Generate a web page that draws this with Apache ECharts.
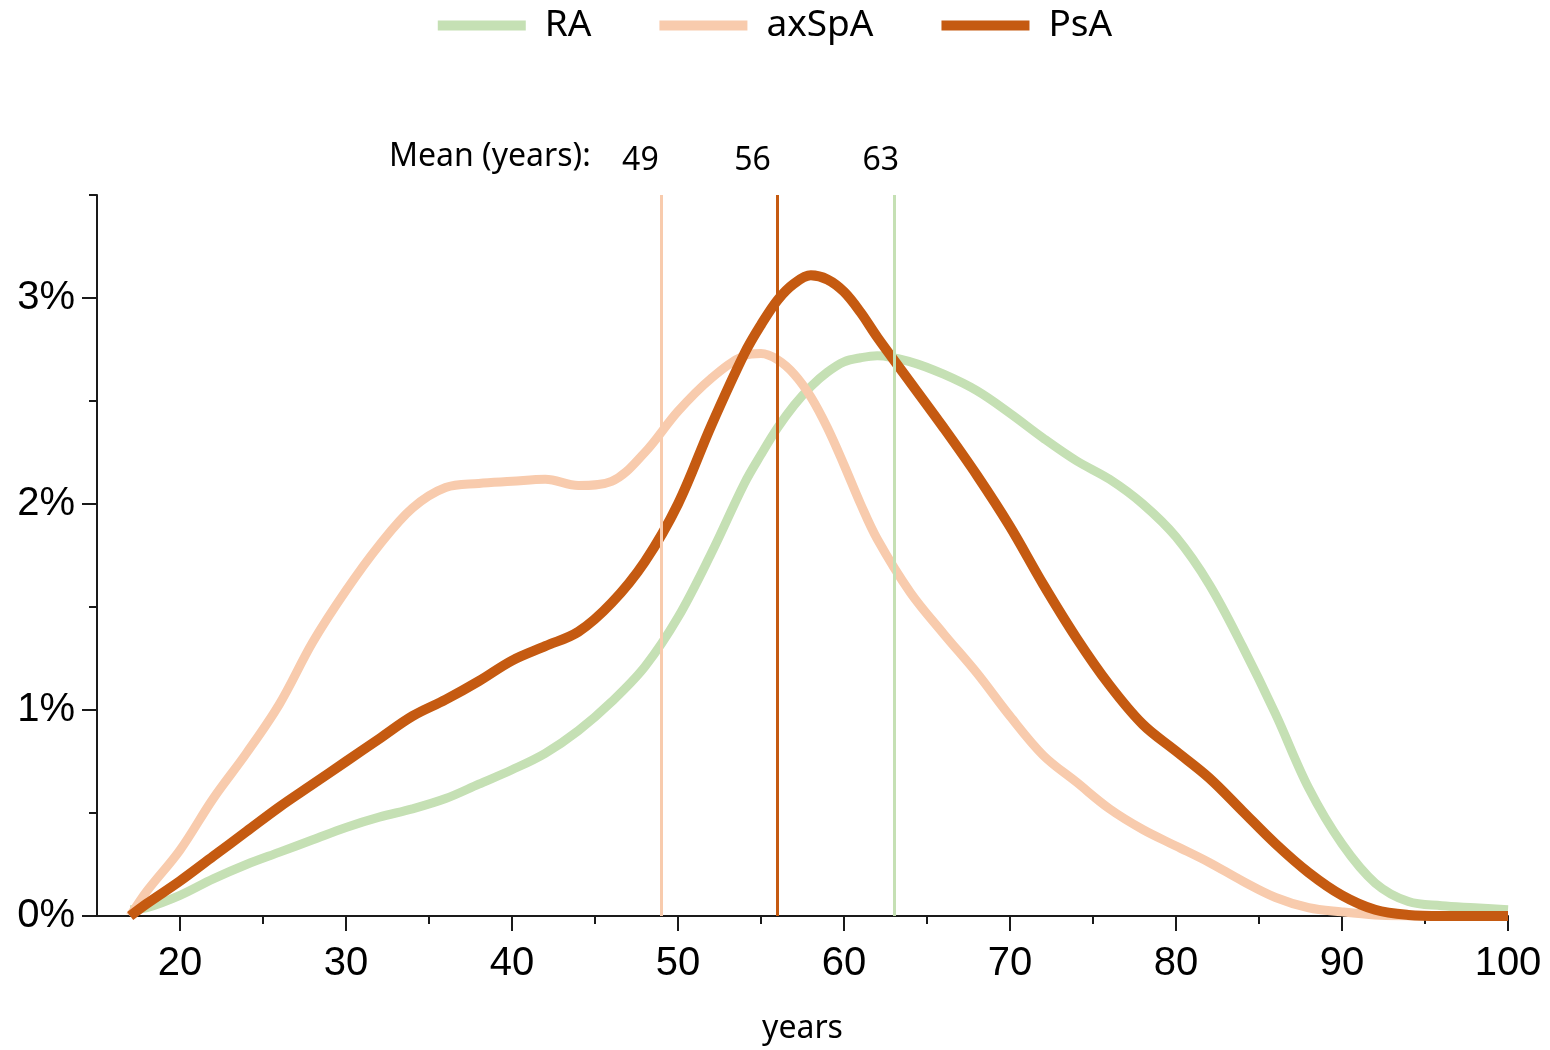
<!DOCTYPE html>
<html>
<head>
<meta charset="utf-8">
<script src="https://cdn.jsdelivr.net/npm/echarts@6/dist/echarts.min.js"></script>
<style>
html,body{margin:0;padding:0;background:#fff;}
#chart{width:1550px;height:1050px;}
</style>
</head>
<body>
<div id="chart"></div>
<script>
// ---- data ----
const ages  = [17,18,20,22,24,26,28,30,32,34,36,38,40,42,44,46,48,50,52,54,55,56,57,58,59,60,61,62,64,66,68,70,72,74,76,78,80,82,84,86,88,90,92,94,96,98,100];
const ra    = [0.03,0.04,0.10,0.18,0.25,0.31,0.37,0.43,0.48,0.52,0.57,0.64,0.71,0.79,0.90,1.04,1.21,1.45,1.76,2.10,2.24,2.37,2.48,2.57,2.64,2.69,2.71,2.72,2.69,2.63,2.55,2.44,2.32,2.21,2.12,2.00,1.84,1.61,1.31,0.98,0.62,0.35,0.16,0.07,0.05,0.04,0.03];
const axspa = [0.00,0.12,0.32,0.57,0.79,1.03,1.33,1.58,1.80,1.98,2.08,2.10,2.11,2.12,2.09,2.11,2.25,2.45,2.61,2.72,2.73,2.70,2.63,2.52,2.37,2.19,2.00,1.83,1.57,1.37,1.18,0.97,0.78,0.65,0.52,0.42,0.34,0.26,0.17,0.09,0.04,0.02,0.005,0,0,0,0];
const psa   = [0.00,0.06,0.17,0.29,0.41,0.53,0.64,0.75,0.86,0.97,1.05,1.14,1.24,1.31,1.38,1.52,1.72,2.00,2.38,2.73,2.87,2.99,3.07,3.11,3.09,3.03,2.93,2.81,2.59,2.37,2.14,1.89,1.61,1.35,1.12,0.93,0.80,0.67,0.51,0.35,0.21,0.10,0.03,0.005,0,0,0];
const seriesNames = ['RA','axSpA','PsA'];
const meanAges = {RA:63, axSpA:49, PsA:56};
const xMajorTicks = [20,30,40,50,60,70,80,90,100];
const xMinorTicks = [25,35,45,55,65,75,85,95];
const yMajorTicks = [0,1,2,3];
const yMinorTicks = [0.5,1.5,2.5,3.5];
const meanTitle = 'Mean (years):';

// ---- styling ----
const colors = {RA:'#C5E0B4', axSpA:'#F8CBAD', PsA:'#C55A11'};
const widths = {RA:9, axSpA:9, PsA:10};
const labelOffsets = {RA:[-13,-13], axSpA:[-21,-13], PsA:[-25,-13]};
const X_MIN = 15, X_MAX = 100, Y_MIN = 0, Y_MAX = 3.5;
const axisFont = 'Liberation Sans, Arial, sans-serif';
const textFont = 'Noto Sans, Open Sans, sans-serif';

const values = {RA: ra, axSpA: axspa, PsA: psa};

function mkSeries(name){
  const m = meanAges[name];
  return {
    name: name,
    type: 'line',
    smooth: 0.35,
    showSymbol: false,
    symbol: 'none',
    xAxisIndex: 0, yAxisIndex: 0,
    data: ages.map((a,i)=>[a, values[name][i]]),
    lineStyle: {color: colors[name], width: widths[name], cap: 'butt'},
    itemStyle: {color: colors[name]},
    emphasis: {disabled: true},
    markLine: {
      silent: true,
      symbol: ['none','none'],
      animation: false,
      lineStyle: {color: colors[name], width: 3, type: 'solid'},
      label: {
        show: true,
        position: 'end',
        formatter: String(m),
        color: '#000',
        fontFamily: textFont,
        fontSize: 32,
        offset: labelOffsets[name]
      },
      data: [[{coord:[m, Y_MIN]},{coord:[m, Y_MAX]}]]
    }
  };
}

const chart = echarts.init(document.getElementById('chart'), null, {renderer:'canvas'});
const axisLineStyle = {color:'#1a1a1a', width:2};
chart.setOption({
  animation: false,
  backgroundColor: '#fff',
  legend: {
    data: seriesNames,
    top: 2,
    left: 'center',
    itemWidth: 88,
    itemHeight: 10,
    itemGap: 68,
    icon: 'rect',
    textStyle: {fontFamily: textFont, fontSize: 37, color:'#000', padding:[0,0,0,14]},
    selectedMode: false
  },
  graphic: [{
    type: 'text',
    left: 389,
    top: 141,
    style: {text: meanTitle, font: '32px ' + textFont, fill: '#000'}
  }],
  grid: {left: 97, right: 42, top: 195, bottom: 133, containLabel: false},
  xAxis: [{
    type: 'value', min: X_MIN, max: X_MAX,
    name: 'years', nameLocation: 'middle', nameGap: 97,
    nameTextStyle: {fontFamily: textFont, fontSize: 32, color:'#000'},
    axisLine: {show:true, lineStyle: axisLineStyle},
    axisTick: {show:true, length:15, inside:false, customValues: xMajorTicks, lineStyle: axisLineStyle},
    axisLabel: {show:true, customValues: xMajorTicks, fontFamily: axisFont, fontSize: 40, color:'#000', margin: 28},
    splitLine: {show:false}
  },{
    type: 'value', min: X_MIN, max: X_MAX, position: 'bottom',
    axisLine: {show:false},
    axisTick: {show:true, length:8, customValues: xMinorTicks, lineStyle: axisLineStyle},
    axisLabel: {show:false},
    splitLine: {show:false}
  }],
  yAxis: [{
    type: 'value', min: Y_MIN, max: Y_MAX,
    axisLine: {show:true, lineStyle: axisLineStyle},
    axisTick: {show:true, length:15, customValues: yMajorTicks, lineStyle: axisLineStyle},
    axisLabel: {show:true, customValues: yMajorTicks, formatter: v => v + '%', fontFamily: axisFont, fontSize: 40, color:'#000', margin: 22},
    splitLine: {show:false}
  },{
    type: 'value', min: Y_MIN, max: Y_MAX, position: 'left',
    axisLine: {show:false},
    axisTick: {show:true, length:8, customValues: yMinorTicks, lineStyle: axisLineStyle},
    axisLabel: {show:false},
    splitLine: {show:false}
  }],
  series: seriesNames.map(mkSeries)
});
</script>
</body>
</html>
